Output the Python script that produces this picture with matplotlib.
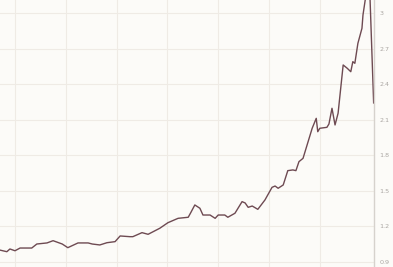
import numpy as np
import matplotlib
matplotlib.use('Agg')
import matplotlib.pyplot as plt

# decimal year vs. index value
years = [2009.70, 2009.84, 2009.90, 2010.00, 2010.10, 2010.33, 2010.43, 2010.63, 2010.75, 2010.93,
         2011.04, 2011.24, 2011.44, 2011.52, 2011.67, 2011.81, 2011.97, 2012.07, 2012.26, 2012.32,
         2012.50, 2012.62, 2012.85, 2013.01, 2013.21, 2013.41, 2013.46, 2013.54, 2013.64, 2013.70,
         2013.84, 2013.94, 2014.00, 2014.13, 2014.19, 2014.33, 2014.47, 2014.53, 2014.59, 2014.67,
         2014.78, 2014.92, 2015.06, 2015.12, 2015.18, 2015.28, 2015.37, 2015.47, 2015.53, 2015.59,
         2015.67, 2015.77, 2015.85, 2015.93, 2015.96, 2016.00, 2016.14, 2016.18, 2016.24, 2016.30,
         2016.36, 2016.46, 2016.54, 2016.61, 2016.65, 2016.69, 2016.75, 2016.83, 2016.85, 2016.91,
         2016.95, 2016.99, 2017.06]
values = [1.001, 0.987, 1.010, 0.995, 1.018, 1.018, 1.052, 1.061, 1.080, 1.052,
          1.021, 1.061, 1.061, 1.052, 1.044, 1.063, 1.072, 1.120, 1.114, 1.114,
          1.148, 1.134, 1.185, 1.232, 1.269, 1.278, 1.317, 1.382, 1.354, 1.297,
          1.297, 1.269, 1.297, 1.297, 1.278, 1.312, 1.410, 1.399, 1.362, 1.373,
          1.345, 1.424, 1.531, 1.542, 1.523, 1.551, 1.672, 1.678, 1.672, 1.748,
          1.776, 1.917, 2.030, 2.114, 2.001, 2.030, 2.038, 2.066, 2.199, 2.058,
          2.157, 2.565, 2.537, 2.508, 2.593, 2.579, 2.748, 2.875, 2.987, 3.16,
          3.20, 3.114, 2.244]
yticks = [0.9, 1.2, 1.5, 1.8, 2.1, 2.4, 2.7, 3.0]
ytick_labels = ['0.9', '1.2', '1.5', '1.8', '2.1', '2.4', '2.7', '3']
xgrid = [2010, 2011, 2012, 2013, 2014, 2015, 2016]

bg = '#fcfbf8'
fig = plt.figure(figsize=(3.93, 2.67), dpi=100)
fig.patch.set_facecolor(bg)
ax = fig.add_axes([0, 0, 374 / 393, 1])
ax.set_facecolor(bg)

ax.plot(years, values, color='#6e4a52', linewidth=1.0, solid_joinstyle='round')

ax.set_xlim(2009.705, 2017.067)
ax.set_ylim(0.8577, 3.114)
ax.set_xticks(xgrid)
ax.set_yticks(yticks)
ax.set_yticklabels(ytick_labels)
ax.grid(True, color='#efebe5', linewidth=0.8)
ax.set_axisbelow(True)

ax.yaxis.tick_right()
ax.tick_params(axis='y', length=0, pad=4, labelsize=4.6, labelcolor='#aaa6a2')
ax.tick_params(axis='x', length=0, labelbottom=False)
for side in ['left', 'top', 'bottom']:
    ax.spines[side].set_visible(False)
ax.spines['right'].set_color('#d6d2cd')
ax.spines['right'].set_linewidth(1.0)

fig.savefig('out.png', dpi=100, facecolor=bg)
